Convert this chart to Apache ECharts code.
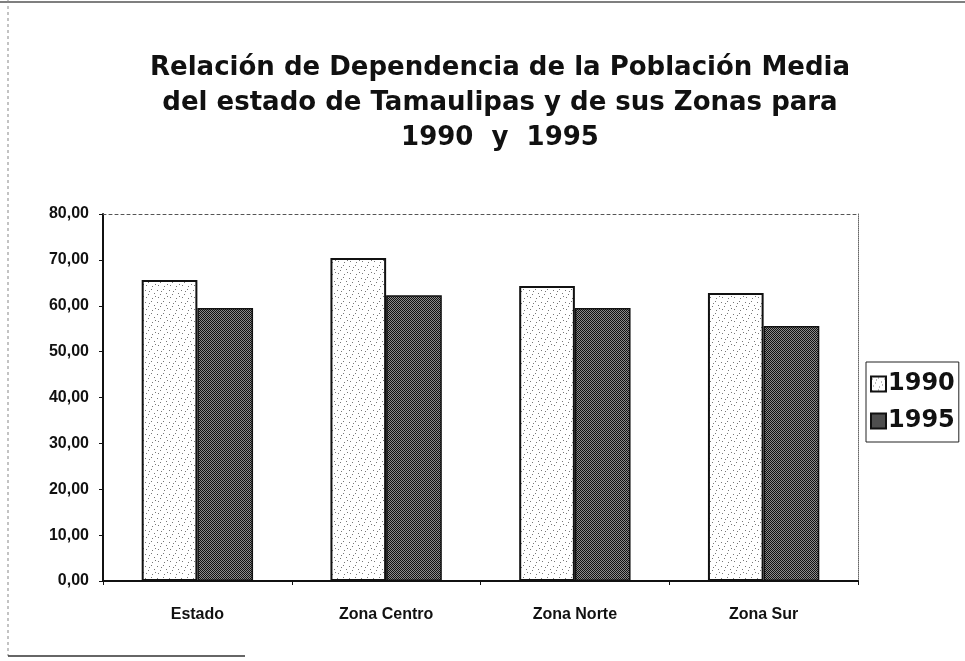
<!DOCTYPE html>
<html>
<head>
    <meta charset="utf-8">
    <title>Relación de Dependencia</title>
    <script src="https://cdn.jsdelivr.net/npm/echarts@6/dist/echarts.min.js"></script>
    <style>
        body { margin: 0; background: #fff; }
    </style>
</head>
<body>
<div id="main" style="width: 965px;height:661px;"></div>
<script type="text/javascript">
    // datos
    var zonas = ['Estado', 'Zona Centro', 'Zona Norte', 'Zona Sur'];
    var anios = ['1990', '1995'];
    var valores1990 = [65.6, 70.4, 64.3, 62.8];
    var valores1995 = [59.5, 62.3, 59.5, 55.6];
    var ticksY = [0, 10, 20, 30, 40, 50, 60, 70, 80];

    // tramas tipo punteado para las barras
    function tramaClara() {
        var c = document.createElement('canvas');
        c.width = 12; c.height = 12;
        var ctx = c.getContext('2d');
        ctx.fillStyle = '#ffffff';
        ctx.fillRect(0, 0, 12, 12);
        ctx.fillStyle = '#777';
        var pts = [[1, 2], [7, 1], [4, 6], [10, 5], [2, 9], [8, 10], [5, 3], [11, 8]];
        for (var i = 0; i < pts.length; i++) ctx.fillRect(pts[i][0], pts[i][1], 1, 1);
        return c;
    }
    function tramaOscura() {
        var c = document.createElement('canvas');
        c.width = 4; c.height = 4;
        var ctx = c.getContext('2d');
        ctx.fillStyle = '#8c8c8c';
        ctx.fillRect(0, 0, 4, 4);
        ctx.fillStyle = '#111';
        for (var y = 0; y < 4; y++) {
            for (var x = 0; x < 4; x++) {
                if ((x + y) % 2 === 0) ctx.fillRect(x, y, 1, 1);
            }
        }
        return c;
    }

    var myChart = echarts.init(document.getElementById('main'));
    var fuente = '"Liberation Sans", Arial, sans-serif';
    var fuenteAncha = '"DejaVu Sans", sans-serif';

    myChart.setOption({
        backgroundColor: '#fff',
        animation: false,
        title: {
            text: 'Relación de Dependencia de la Población Media\ndel estado de Tamaulipas y de sus Zonas para\n1990  y  1995',
            left: 495,
            textAlign: 'center',
            top: 46,
            textStyle: {
                fontFamily: fuenteAncha,
                fontSize: 26,
                fontWeight: 'bold',
                color: '#111',
                lineHeight: 35
            }
        },
        legend: {
            orient: 'vertical',
            left: 866,
            top: 362,
            padding: [10, 4, 9, 4],
            itemGap: 13,
            itemWidth: 15,
            itemHeight: 15,
            borderColor: '#222',
            borderWidth: 1,
            icon: 'rect',
            textStyle: {
                fontFamily: fuenteAncha,
                fontSize: 24,
                fontWeight: 'bold',
                color: '#111',
                padding: [0, 0, 0, -3]
            },
            data: anios
        },
        grid: {
            left: 103,
            right: 107,
            top: 214,
            bottom: 80
        },
        xAxis: [{
            type: 'category',
            data: zonas,
            axisLine: { lineStyle: { color: '#111', width: 2 } },
            axisTick: { show: true, length: 4, lineStyle: { color: '#111' } },
            axisLabel: {
                margin: 26,
                fontFamily: fuente,
                fontSize: 16,
                fontWeight: 'bold',
                color: '#111'
            }
        }, {
            type: 'category',
            position: 'top',
            data: zonas,
            axisLine: { onZero: false, lineStyle: { color: '#555', type: [3, 3], width: 1 } },
            axisTick: { show: false },
            axisLabel: { show: false }
        }],
        yAxis: [{
            type: 'value',
            min: ticksY[0],
            max: ticksY[ticksY.length - 1],
            interval: 10,
            axisLine: { show: true, lineStyle: { color: '#111', width: 2 } },
            axisTick: { show: true, length: 4, lineStyle: { color: '#111' } },
            splitLine: { show: false },
            axisLabel: {
                margin: 14,
                fontFamily: fuente,
                fontSize: 16,
                fontWeight: 'bold',
                color: '#111',
                formatter: function (v) { return v.toFixed(2).replace('.', ','); }
            }
        }, {
            type: 'value',
            position: 'right',
            min: ticksY[0],
            max: ticksY[ticksY.length - 1],
            interval: 10,
            axisLine: { show: true, onZero: false, lineStyle: { color: '#666', type: 'dotted', width: 1 } },
            axisTick: { show: false },
            axisLabel: { show: false },
            splitLine: { show: false }
        }],
        series: [{
            name: anios[0],
            type: 'bar',
            data: valores1990,
            barGap: '0%',
            barCategoryGap: '41%',
            itemStyle: {
                color: { image: tramaClara(), repeat: 'repeat' },
                borderColor: '#111',
                borderWidth: 2
            }
        }, {
            name: anios[1],
            type: 'bar',
            data: valores1995,
            itemStyle: {
                color: { image: tramaOscura(), repeat: 'repeat' },
                borderColor: '#111',
                borderWidth: 1.5
            }
        }],
        graphic: [{
            type: 'line',
            shape: { x1: 0, y1: 2, x2: 965, y2: 2 },
            style: { stroke: '#555', lineWidth: 1.5 }
        }, {
            type: 'line',
            shape: { x1: 8, y1: 0, x2: 8, y2: 656 },
            style: { stroke: '#888', lineWidth: 1, lineDash: [3, 3] }
        }, {
            type: 'line',
            shape: { x1: 8, y1: 656, x2: 245, y2: 656 },
            style: { stroke: '#333', lineWidth: 1.5 }
        }]
    });
</script>
</body>
</html>
